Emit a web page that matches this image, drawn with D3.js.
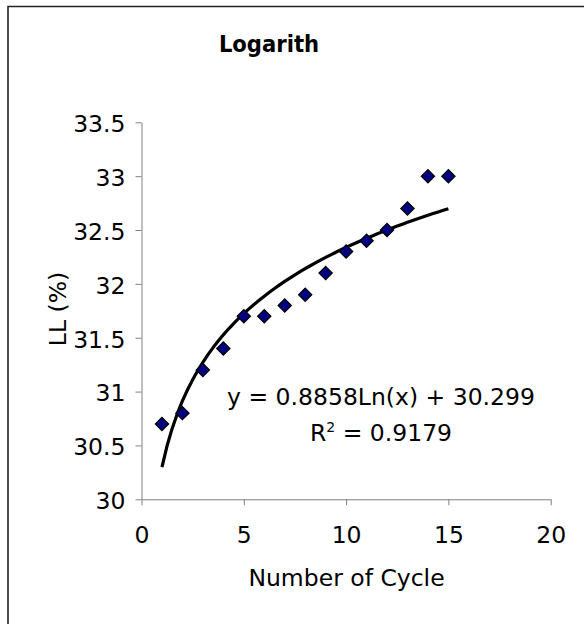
<!DOCTYPE html>
<html>
<head>
<meta charset="utf-8">
<script src="https://cdn.jsdelivr.net/npm/d3@7"></script>
<style>
    body { margin: 0; background: #fff; }
    text { font-family: "DejaVu Sans", Verdana, sans-serif; fill: #000; }
</style>
</head>
<body>
<div id="chart"></div>
<script>
// data
const cycles = [1, 2, 3, 4, 5, 6, 7, 8, 9, 10, 11, 12, 13, 14, 15];
const llValues = [30.7, 30.8, 31.2, 31.4, 31.7, 31.7, 31.8, 31.9, 32.1, 32.3, 32.4, 32.5, 32.7, 33.0, 33.0];
const xTicks = [0, 5, 10, 15, 20];
const yTicks = [30, 30.5, 31, 31.5, 32, 32.5, 33, 33.5];
// trendline from the label: y = a*ln(x) + b
const trendA = 0.8858;
const trendB = 30.299;

const width = 584;
const height = 624;
const fontSize = 23.5;

const svg = d3
    .select("div#chart")
    .append("svg")
    .attr("width", width)
    .attr("height", height);

// chart border (only left and top are visible)
svg.append("path")
    .attr("d", `M8,${height} L8,6.5 L${width},6.5`)
    .attr("fill", "none")
    .attr("stroke", "#222")
    .attr("stroke-width", 1.6);

const x = d3.scaleLinear().domain([0, 20]).range([141.5, 550.7]);
const y = d3.scaleLinear().domain([30, 33.5]).range([499.3, 122.3]);

const xAxis = d3.axisBottom(x).tickValues(xTicks).tickSize(6).tickSizeOuter(0).tickPadding(21);
const yAxis = d3.axisLeft(y).tickValues(yTicks).tickSize(6).tickSizeOuter(0).tickPadding(10)
    .tickFormat(d3.format(""));

const xAxisGroup = svg.append("g")
    .attr("transform", `translate(0,${y(30)})`)
    .call(xAxis);

const yAxisGroup = svg.append("g")
    .attr("transform", `translate(${x(0)},0)`)
    .call(yAxis);

[xAxisGroup, yAxisGroup].forEach((g) => {
    g.selectAll(".domain, line").attr("stroke", "#808080");
    g.selectAll("text")
        .attr("font-family", "DejaVu Sans, sans-serif")
        .attr("font-size", fontSize)
        .attr("fill", "#000");
});
yAxisGroup.selectAll("text").attr("dy", "0.4em");

// title
svg.append("text")
    .attr("x", 269)
    .attr("y", 52)
    .attr("text-anchor", "middle")
    .attr("font-size", fontSize)
    .attr("font-weight", "bold")
    .style("font-family", '"DejaVu Sans Condensed", "DejaVu Sans", sans-serif')
    .text("Logarith");

// axis titles
svg.append("text")
    .attr("x", 346.5)
    .attr("y", 586)
    .attr("text-anchor", "middle")
    .attr("font-size", fontSize)
    .text("Number of Cycle");

svg.append("text")
    .attr("transform", `translate(66,309) rotate(-90)`)
    .attr("text-anchor", "middle")
    .attr("font-size", fontSize)
    .text("LL (%)");

// trendline
const trendPts = d3.range(1, 15.001, 0.25).map((c) => [c, trendA * Math.log(c) + trendB]);
const line = d3.line().x((d) => x(d[0])).y((d) => y(d[1]));

svg.append("path")
    .datum(trendPts)
    .attr("d", line)
    .attr("fill", "none")
    .attr("stroke", "#000")
    .attr("stroke-width", 3.2)
    .attr("stroke-linejoin", "round");

// markers
const diamond = d3.symbol(d3.symbolSquare, 88);
svg.append("g")
    .selectAll("path")
    .data(cycles)
    .join("path")
    .attr("d", diamond)
    .attr("transform", (d, i) => `translate(${x(d)},${y(llValues[i])}) rotate(45)`)
    .attr("fill", "#000080")
    .attr("stroke", "#000")
    .attr("stroke-width", 1.2);

// equation label
svg.append("text")
    .attr("x", 381)
    .attr("y", 405)
    .attr("text-anchor", "middle")
    .attr("font-size", fontSize)
    .text(`y = ${trendA}Ln(x) + ${trendB}`);

const r2 = svg.append("text")
    .attr("x", 381)
    .attr("y", 441)
    .attr("text-anchor", "middle")
    .attr("font-size", fontSize);
r2.append("tspan").text("R");
r2.append("tspan").attr("dy", -9).attr("font-size", 14).text("2");
r2.append("tspan").attr("dy", 9).text(" = 0.9179");
</script>
</body>
</html>
